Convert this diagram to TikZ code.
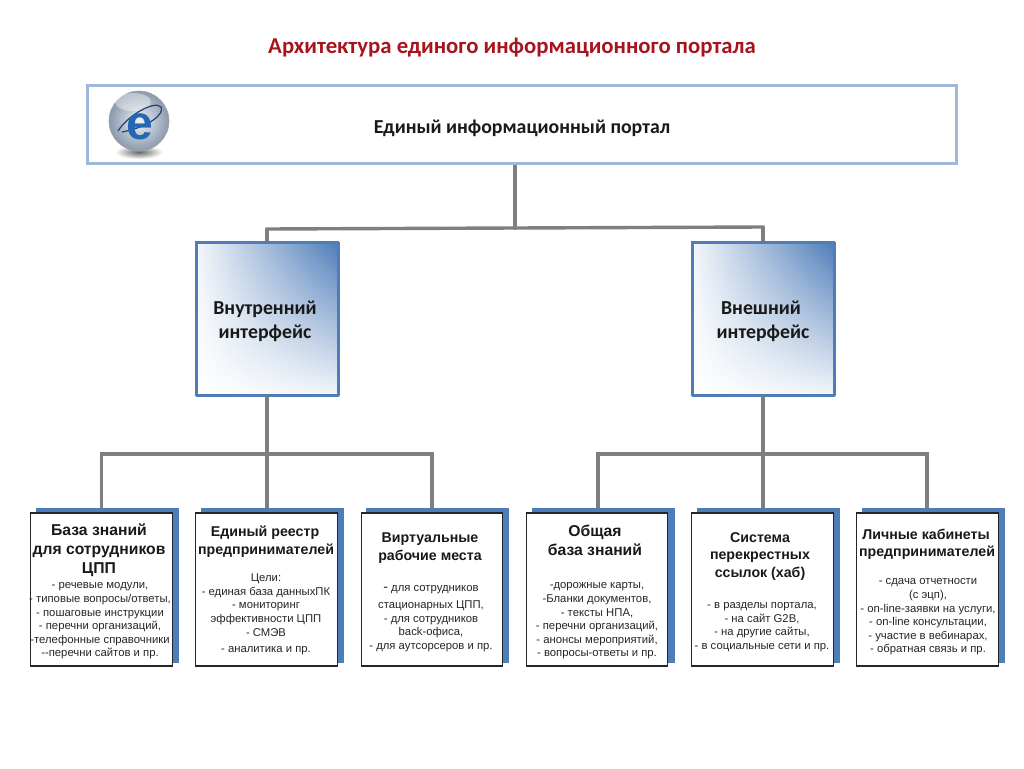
\documentclass[tikz,border=0pt]{standalone}
\usepackage{fontspec}
\setmainfont{Liberation Sans}
\newfontfamily\calib{Carlito}
\usetikzlibrary{calc,shadings}
\definecolor{shadowblue}{HTML}{4F7DB9}
\definecolor{framelight}{HTML}{9FB8DA}
\definecolor{conn}{HTML}{7F7F7F}
\definecolor{titlered}{HTML}{A8141E}
\definecolor{ballrim}{HTML}{8A99AC}
\definecolor{ballin}{HTML}{EEF2F6}
\definecolor{ecolor}{HTML}{2468B4}
\definecolor{orbit}{HTML}{24407A}
\tikzset{
  x=1pt,y=-1pt,
  connector/.style={draw=conn,line width=3.4pt},
  topbox/.style={draw=framelight,line width=3pt,fill=white,minimum width=869pt,minimum height=78pt,inner sep=0pt},
  ifacebox/.style={draw=shadowblue,line width=3pt,minimum width=141pt,minimum height=152pt,inner sep=0pt},
  leafbox/.style={draw=black!85,line width=1.1pt,fill=white,minimum width=141.5pt,minimum height=153pt,inner sep=0pt},
  leafshadow/.style={fill=shadowblue,draw=none,inner sep=0pt,minimum width=143pt,minimum height=155pt},
  head/.style={font=\bfseries\fontsize{15.7}{19}\selectfont,align=center,inner sep=0pt,text=black!90},
  headb/.style={font=\bfseries\fontsize{14.2}{17.4}\selectfont,align=center,inner sep=0pt,text=black!90},
  body/.style={font=\fontsize{11.3}{13.6}\selectfont,align=center,inner sep=0pt,text=black!85},
  ifacetext/.style={font=\calib\bfseries\fontsize{19.8}{24}\selectfont,align=center,inner sep=0pt,text=black!90},
}
\begin{document}
\begin{tikzpicture}
\useasboundingbox (0,0) rectangle (1024,768);
\fill[white] (0,0) rectangle (1024,768);
% title
\node[font=\calib\bfseries\fontsize{22.75}{26}\selectfont,text=titlered,inner sep=0pt] (title) at (512,48) {Архитектура единого информационного портала};
% junctions
\coordinate (jt) at (515,228);
\coordinate (jl) at (267,229);
\coordinate (jr) at (763,227);
\coordinate (jbl) at (267,454);
\coordinate (jbr) at (763,454);
% shadows of the leaf boxes
\foreach \n/\x in {s1/107,s2/272,s3/437.5,s4/603,s5/768,s6/933}
  \node[leafshadow] (\n) at (\x,585.5) {};
% top box
\node[topbox] (top) at (522,124.5) {};
\node[font=\calib\bfseries\fontsize{19.8}{24}\selectfont,inner sep=0pt,text=black!90] (toplabel) at (522,128) {Единый информационный портал};
% globe
\shade[inner color=black!60,outer color=white] (139,152) ellipse (24 and 7);
\shade[inner color=ballin,outer color=ballrim,draw=black!35,line width=.6pt] (139,121) circle (30);
\fill[white,opacity=.4] (133,102) ellipse (18 and 9);
\draw[orbit,line width=1.2pt] (118,131) .. controls (128,115) and (155,100) .. (161,107) .. controls (165,113) and (150,127) .. (122,132);
\node[font=\bfseries\fontsize{48}{48}\selectfont,text=ecolor,inner sep=0pt] (globee) at (140,127) {e};
% connectors: trunk
\draw[connector] (jt |- top.south) -- (jt);
\draw[connector,line cap=rect] (jl) -- (jt);
\draw[connector,line cap=rect] (jt) -- (jr);
% interface boxes
\node[ifacebox] (il) at (267,318.5) {};
\node[ifacebox] (ir) at (763,318.5) {};
\shade[lower left=white,upper left=white!94!shadowblue,lower right=white!92!shadowblue,upper right=shadowblue]
  (196,243) rectangle (338,394);
\shade[lower left=white,upper left=white!94!shadowblue,lower right=white!92!shadowblue,upper right=shadowblue]
  (692,243) rectangle (834,394);
\draw[shadowblue,line width=3pt,line join=round] (196,242) rectangle (338,395);
\draw[shadowblue,line width=3pt,line join=round] (692,242) rectangle (834,395);
\node[ifacetext] (iltext) at (265,321.5) {Внутренний\\интерфейс};
\node[ifacetext] (irtext) at (763,321.5) {\hspace*{-4pt}Внешний\\интерфейс};
\draw[connector] (jl) -- (il.north);
\draw[connector] (jr) -- (ir.north);
% lower connectors
\coordinate (k1) at (101.5,454);
\coordinate (k3) at (432,454);
\coordinate (k4) at (598,454);
\coordinate (k6) at (927,454);
\draw[connector] (il.south) -- (jbl);
\draw[connector] (ir.south) -- (jbr);
\draw[connector,line cap=rect] (k1) -- (k3);
\draw[connector,line cap=rect] (k4) -- (k6);
% leaf boxes
\node[leafbox] (b1) at (101.5,589.5) {};
\node[leafbox] (b2) at (266.5,589.5) {};
\node[leafbox] (b3) at (432,589.5) {};
\node[leafbox] (b4) at (597,589.5) {};
\node[leafbox] (b5) at (762.5,589.5) {};
\node[leafbox] (b6) at (927.5,589.5) {};
\draw[connector] (k1) -- (k1 |- s1.north);
\draw[connector] (jbl) -- (jbl |- s2.north);
\draw[connector] (k3) -- (k3 |- s3.north);
\draw[connector] (k4) -- (k4 |- s4.north);
\draw[connector] (jbr) -- (jbr |- s5.north);
\draw[connector] (k6) -- (k6 |- s6.north);
% leaf 1
\node[head] (h1) at (99,550) {База знаний\\для сотрудников\\ЦПП};
\node[body] (t1) at (100,621) {- речевые модули,\\- типовые вопросы/ответы,\\- пошаговые инструкции\\- перечни организаций,\\-телефонные справочники\\-{}-перечни сайтов и пр.};
% leaf 2
\node[headb] (h2) at (266,541.5) {\hspace*{-2pt}Единый реестр\\предпринимателей};
\node[body] (t2) at (266,614.5) {Цели:\\- единая база данныхПК\\- мониторинг\\эффективности ЦПП\\- СМЭВ\\[3pt]- аналитика и пр.};
% leaf 3
\node[headb] (h3) at (430,548) {Виртуальные\\рабочие места};
\node[body] (t3) at (431,618.5) {{\fontsize{14}{13.6}\selectfont -} для сотрудников\\[4pt]стационарных ЦПП,\\- для сотрудников\\back-офиса,\\- для аутсорсеров и пр.};
% leaf 4
\node[head] (h4) at (595,540) {Общая\\база знаний};
\node[body] (t4) at (597,621) {-дорожные карты,\\-Бланки документов,\\- тексты НПА,\\- перечни организаций,\\- анонсы мероприятий,\\- вопросы-ответы и пр.};
% leaf 5
\node[headb] (h5) at (760,556.5) {Система\\перекрестных\\ссылок (хаб)};
\node[body] (t5) at (762,627) {- в разделы портала,\\- на сайт G2B,\\- на другие сайты,\\- в социальные сети и пр.};
% leaf 6
\node[headb] (h6) at (927,544.5) {\hspace*{-2pt}Личные кабинеты\\предпринимателей};
\node[body] (t6) at (928,617) {- сдача отчетности\\(с эцп),\\- on-line-заявки на услуги,\\- on-line консультации,\\- участие в вебинарах,\\- обратная связь и пр.};
\end{tikzpicture}
\end{document}
